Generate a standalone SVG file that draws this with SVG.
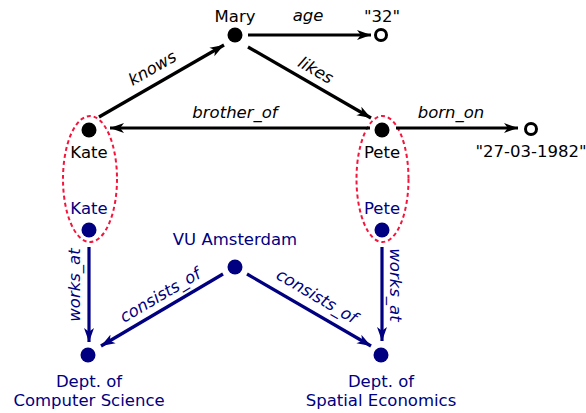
<svg xmlns="http://www.w3.org/2000/svg" width="586" height="413" viewBox="0 0 586 413">
<style>
text{font-family:"DejaVu Sans",Verdana,sans-serif;font-size:16.5px;text-anchor:middle}
.b{fill:#000}
.n{fill:#000080}
.i{font-style:italic}
.eb{stroke:#000;stroke-width:3.2;fill:none}
.en{stroke:#000080;stroke-width:3.2;fill:none}
.grp{fill:none;stroke:#f5143c;stroke-width:2;stroke-dasharray:4 3}
</style>
<defs>
<marker id="ab" markerUnits="userSpaceOnUse" markerWidth="15" markerHeight="11" refX="14" refY="5.5" orient="auto" viewBox="0 0 15 11">
<path d="M0,0.5 L14,5.5 L0,10.5 L3.8,5.5 Z" fill="#000"/>
</marker>
<marker id="an" markerUnits="userSpaceOnUse" markerWidth="15" markerHeight="11" refX="14" refY="5.5" orient="auto" viewBox="0 0 15 11">
<path d="M0,0.5 L14,5.5 L0,10.5 L3.8,5.5 Z" fill="#000080"/>
</marker>
</defs>
<g id="groups">
<ellipse class="grp" cx="90" cy="179" rx="27" ry="63"/>
<ellipse class="grp" cx="382.5" cy="179" rx="26" ry="63"/>
</g>
<g id="connectors">
<line class="eb" x1="248" y1="35" x2="371" y2="35" marker-end="url(#ab)"/>
<text class="b i" x="308" y="21">age</text>
<line class="eb" x1="99" y1="117" x2="224" y2="45" marker-end="url(#ab)"/>
<text class="b i" transform="translate(155,73) rotate(-30)">knows</text>
<line class="eb" x1="248" y1="47" x2="371" y2="118" marker-end="url(#ab)"/>
<text class="b i" transform="translate(313,75) rotate(30)">likes</text>
<line class="eb" x1="370" y1="128" x2="110" y2="128" marker-end="url(#ab)"/>
<text class="b i" x="235" y="118">brother_of</text>
<line class="eb" x1="396" y1="128" x2="518" y2="128" marker-end="url(#ab)"/>
<text class="b i" x="451" y="118">born_on</text>
<line class="en" x1="89" y1="247" x2="89" y2="342" marker-end="url(#an)"/>
<text class="n i" transform="translate(80,285) rotate(-90)">works_at</text>
<line class="en" x1="382" y1="247" x2="382" y2="341" marker-end="url(#an)"/>
<text class="n i" transform="translate(390,285) rotate(90)">works_at</text>
<line class="en" x1="223" y1="274" x2="101" y2="346" marker-end="url(#an)"/>
<text class="n i" transform="translate(163,300) rotate(-30.5)">consists_of</text>
<line class="en" x1="247" y1="274" x2="371" y2="346" marker-end="url(#an)"/>
<text class="n i" transform="translate(314,301) rotate(30.5)">consists_of</text>
</g>
<g id="mary"><circle cx="235" cy="35" r="7.5" fill="#000"/><text class="b" x="235" y="22">Mary</text></g>
<g id="age32"><circle cx="381" cy="35" r="5.5" fill="#fff" stroke="#000" stroke-width="3"/><text class="b" x="382" y="22">"32"</text></g>
<g id="kate"><circle cx="89" cy="130" r="7.5" fill="#000"/><text class="b" x="89" y="158">Kate</text></g>
<g id="pete"><circle cx="382" cy="130" r="7.5" fill="#000"/><text class="b" x="382" y="158">Pete</text></g>
<g id="dob"><circle cx="531" cy="129" r="5.5" fill="#fff" stroke="#000" stroke-width="3"/><text class="b" x="531" y="157">"27-03-1982"</text></g>
<g id="kate2"><circle cx="89" cy="230" r="7.5" fill="#000080"/><text class="n" x="89" y="214">Kate</text></g>
<g id="pete2"><circle cx="382" cy="230" r="7.5" fill="#000080"/><text class="n" x="382" y="214">Pete</text></g>
<g id="vu"><circle cx="235" cy="267" r="7.5" fill="#000080"/><text class="n" x="235" y="245">VU Amsterdam</text></g>
<g id="cs"><circle cx="88" cy="355" r="7.5" fill="#000080"/><text class="n" x="89" y="387">Dept. of</text><text class="n" x="89" y="406">Computer Science</text></g>
<g id="se"><circle cx="381" cy="355" r="7.5" fill="#000080"/><text class="n" x="381" y="387">Dept. of</text><text class="n" x="381" y="406">Spatial Economics</text></g>
</svg>
